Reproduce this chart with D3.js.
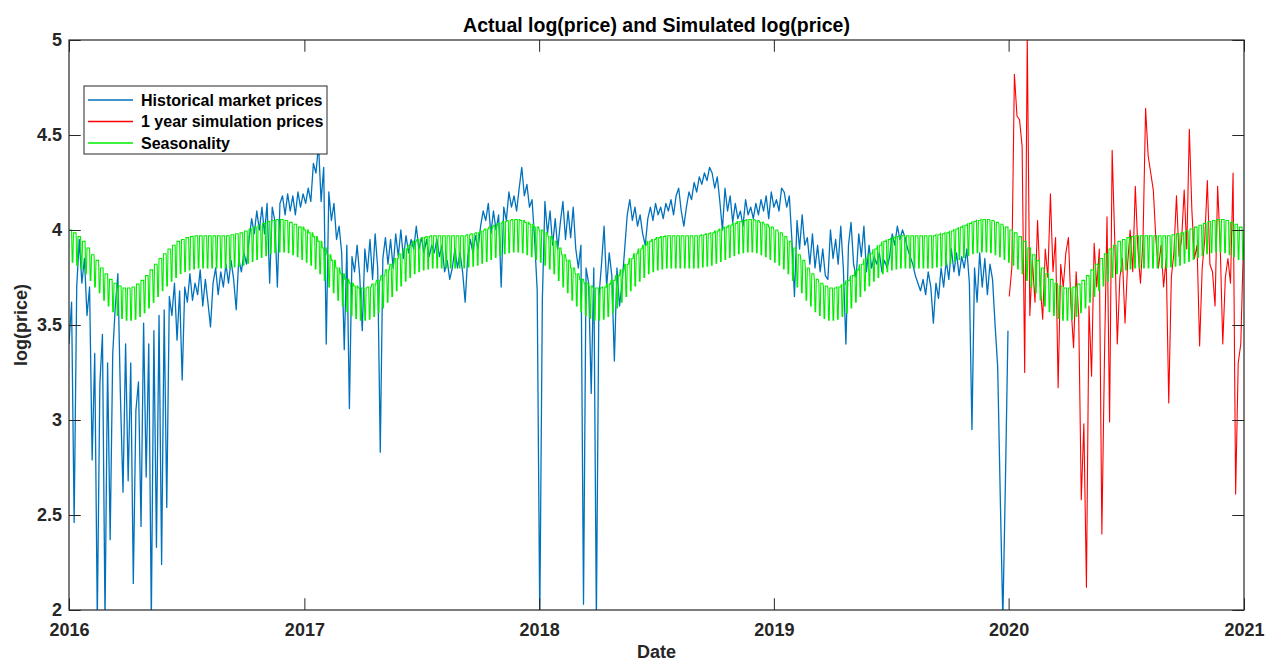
<!DOCTYPE html>
<html>
<head>
<meta charset="utf-8">
<script src="https://cdn.jsdelivr.net/npm/d3@7"></script>
<style>
  body { margin: 0; background: #fff; }
  text { font-family: "Liberation Sans", Arial, sans-serif; }
</style>
</head>
<body>
<div id="chart"></div>
<script>
// historical log(price), one value every 4 days from 2016-01-01
const hist2016 = [
  3.40, 3.62, 2.46, 3.70, 3.95, 3.72, 3.85, 3.55, 3.70, 2.79,
  3.35, 1.95, 3.19, 3.45, 1.95, 3.30, 2.37, 3.35, 3.60, 3.77,
  3.12, 2.62, 3.40, 2.68, 3.30, 2.14, 3.05, 3.20, 2.44, 3.51,
  2.70, 3.40, 1.95, 3.47, 2.33, 3.55, 2.24, 3.58, 2.54, 3.65,
  3.55, 3.72, 3.42, 3.68, 3.21, 3.70, 3.62, 3.77, 3.63, 3.72,
  3.66, 3.79, 3.60, 3.74, 3.62, 3.49, 3.72, 3.80, 3.66, 3.78,
  3.70, 3.82, 3.72, 3.84, 3.74, 3.58, 3.85, 3.78, 3.88, 3.82,
  3.95, 4.06, 3.98, 4.10, 4.00, 4.12, 3.98, 4.14, 3.72, 4.12,
  4.05, 3.70, 4.14, 4.18, 4.08, 4.19, 4.10, 4.18, 4.08, 4.20,
  4.12, 4.19
];
const hist2017 = [
  4.14, 4.22, 4.15, 4.35, 4.30, 4.45, 4.15, 4.33, 3.40, 4.20,
  4.05, 4.14, 3.95, 4.02, 3.88, 3.37, 3.92, 3.06, 3.86, 3.78,
  3.92, 3.76, 3.47, 3.90, 3.78, 3.95, 3.74, 3.98, 3.80, 2.83,
  3.85, 3.96, 3.82, 3.95, 3.80, 3.98, 3.86, 4.00, 3.85, 3.97,
  3.88, 3.95, 3.90, 4.02, 3.90, 3.96, 3.88, 3.95, 3.86, 3.92,
  3.88, 3.95, 3.86, 3.92, 3.78, 3.84, 3.74, 3.80, 3.90, 3.80,
  3.88, 3.78, 3.62, 3.86, 3.95, 3.88, 3.97, 3.90, 4.02, 4.10,
  4.05, 4.14, 3.98, 4.10, 4.00, 4.08, 3.70, 4.12, 4.05, 4.20,
  4.12, 4.18, 4.10, 4.22, 4.33, 4.18, 4.24, 4.12, 4.16, 3.95,
  3.68, 1.95
];
const hist2018 = [
  3.63, 4.15, 3.98, 4.10, 3.92, 4.06, 3.90, 4.04, 4.15, 3.95,
  4.10, 3.96, 4.12, 3.90, 3.80, 3.92, 2.03, 3.80, 3.72, 3.14,
  3.80, 1.95, 3.65, 3.82, 4.02, 3.70, 3.88, 3.76, 3.31, 3.80,
  3.60, 3.72, 3.90, 4.08, 4.16, 4.05, 4.12, 4.02, 4.08, 3.98,
  3.92, 4.06, 4.12, 4.05, 4.14, 4.08, 4.12, 4.06, 4.14, 4.10,
  4.16, 4.08, 4.18, 4.22, 4.10, 4.02, 4.12, 4.20, 4.16, 4.25,
  4.20, 4.28, 4.24, 4.30, 4.26, 4.33, 4.30, 4.22, 4.28, 4.15,
  4.00, 4.22, 4.10, 4.18, 4.04, 4.14, 4.06, 4.10, 4.02, 4.16,
  4.08, 4.12, 4.06, 4.14, 4.08, 4.16, 4.10, 4.18, 4.06, 4.20,
  4.12, 4.16
];
const hist2019 = [
  4.10, 4.22, 4.20, 4.12, 4.18, 3.95, 3.65, 4.05, 3.90, 4.08,
  3.92, 3.96, 3.82, 3.98, 3.80, 3.92, 3.78, 3.90, 3.76, 3.74,
  4.00, 3.85, 3.95, 3.82, 4.02, 3.80, 3.40, 3.92, 4.04, 3.82,
  3.75, 3.98, 3.86, 4.02, 3.78, 3.92, 3.80, 3.86, 3.82, 3.88,
  3.78, 3.84, 3.80, 3.86, 3.98, 3.92, 4.02, 3.95, 4.00, 3.96,
  3.90, 3.86, 3.82, 3.76, 3.72, 3.68, 3.74, 3.66, 3.78, 3.70,
  3.51, 3.72, 3.64, 3.80, 3.70, 3.84, 3.74, 3.90, 3.78, 3.88,
  3.76, 3.86, 3.80, 3.90, 3.72, 2.95, 3.80, 3.62, 3.88, 3.70,
  3.85, 3.66, 3.82, 3.74, 3.50, 3.28, 2.60, 1.95, 2.67, 3.47
];

// simulated log(price), one value every 4 days from 2020-01-02
const sim2020 = [
  3.65, 3.80, 4.82, 4.60, 4.58, 4.44, 3.25, 5.02, 3.55, 3.84,
  3.62, 4.05, 3.72, 3.53, 3.90, 3.75, 4.19, 3.78, 3.96, 3.17,
  3.82, 3.70, 3.88, 3.96, 3.60, 3.38, 3.78, 3.55, 2.58, 2.98,
  2.12, 3.60, 3.23, 3.93, 3.70, 3.90, 2.40, 3.32, 4.07, 2.99,
  4.42, 3.95, 3.40, 3.75, 3.85, 3.51, 3.82, 4.00, 3.78, 4.23,
  3.90, 3.72, 3.95, 4.64, 4.39, 4.30, 4.21, 3.95, 3.80, 3.92,
  3.70, 3.85, 3.09, 3.75, 3.88, 4.18, 3.86, 3.95, 4.21, 3.90,
  4.53, 4.10, 3.85, 3.92, 3.39, 3.80, 3.95, 4.26, 3.82, 3.78,
  3.60, 4.23, 3.92, 3.40, 3.75, 3.85, 3.72, 4.30, 2.61, 3.30,
  3.40, 3.91
];

// seasonality: upper level for each week of the year, plus weekday offsets
const seasonWeekly = [
  4.00, 3.985, 3.965, 3.94, 3.905, 3.87, 3.84, 3.80, 3.77, 3.74,
  3.72, 3.705, 3.695, 3.695, 3.70, 3.715, 3.735, 3.76, 3.79, 3.82,
  3.85, 3.875, 3.90, 3.92, 3.94, 3.95, 3.96, 3.965, 3.97, 3.97,
  3.97, 3.97, 3.97, 3.97, 3.97, 3.97, 3.975, 3.98, 3.985, 3.995,
  4.005, 4.015, 4.025, 4.035, 4.045, 4.05, 4.055, 4.055, 4.05, 4.04,
  4.03, 4.015
];
const weekdayOffset = [0, 0, 0, 0, 0, -0.17, -0.17];

const yearTicks = [2016, 2017, 2018, 2019, 2020, 2021];
const yTicks = [2, 2.5, 3, 3.5, 4, 4.5, 5];

const width = 1265;
const height = 663;
const margin = {top: 40, right: 21, bottom: 53, left: 69};
const tickLen = 11.75;
const ink = "#262626";

const svg = d3.select("#chart")
    .append("svg")
    .attr("width", width)
    .attr("height", height);

const x = d3.scaleUtc()
    .domain([new Date(Date.UTC(2016, 0, 1)), new Date(Date.UTC(2021, 0, 1))])
    .range([margin.left, width - margin.right]);
const y = d3.scaleLinear()
    .domain([2, 5])
    .range([height - margin.bottom, margin.top]);

const start = new Date(Date.UTC(2016, 0, 1));
const histData = [...hist2016, ...hist2017, ...hist2018, ...hist2019]
    .map((v, i) => ({date: d3.utcDay.offset(start, 4 * i), value: v}));
const simStart = new Date(Date.UTC(2020, 0, 2));
const simData = sim2020.map((v, i) => ({date: d3.utcDay.offset(simStart, 4 * i), value: v}));

const nDays = d3.utcDay.count(x.domain()[0], x.domain()[1]);
const seasonData = d3.range(nDays + 1).map(i => {
    const date = d3.utcDay.offset(start, i);
    const doy = d3.utcDay.count(d3.utcYear(date), date);
    const w = Math.min(51, Math.floor(doy / 7));
    return {date: date, value: seasonWeekly[w] + weekdayOffset[i % 7]};
});

svg.append("clipPath").attr("id", "plot-clip")
    .append("rect")
    .attr("x", margin.left)
    .attr("y", margin.top)
    .attr("width", width - margin.left - margin.right)
    .attr("height", height - margin.top - margin.bottom);

const line = d3.line()
    .x(d => x(d.date))
    .y(d => y(d.value));

const plot = svg.append("g").attr("clip-path", "url(#plot-clip)");

plot.append("path")
    .datum(histData)
    .attr("fill", "none")
    .attr("stroke", "#0072bd")
    .attr("stroke-width", 1.3)
    .attr("stroke-linejoin", "round")
    .attr("d", line);

plot.append("path")
    .datum(simData)
    .attr("fill", "none")
    .attr("stroke", "#ff0000")
    .attr("stroke-width", 1.1)
    .attr("stroke-linejoin", "round")
    .attr("d", line);

plot.append("path")
    .datum(seasonData)
    .attr("fill", "none")
    .attr("stroke", "#00ee00")
    .attr("stroke-width", 1.1)
    .attr("d", line);

// axes, MATLAB style: ticks inside, box on
const xTickDates = yearTicks.map(yr => new Date(Date.UTC(yr, 0, 1)));

svg.append("g")
    .attr("transform", `translate(0,${height - margin.bottom})`)
    .call(d3.axisBottom(x).tickValues(xTickDates)
        .tickFormat(d3.utcFormat("%Y"))
        .tickSizeInner(-tickLen).tickSizeOuter(0).tickPadding(13));

svg.append("g")
    .attr("transform", `translate(0,${margin.top})`)
    .call(d3.axisTop(x).tickValues(xTickDates)
        .tickFormat("").tickSizeInner(-tickLen).tickSizeOuter(0));

svg.append("g")
    .attr("transform", `translate(${margin.left},0)`)
    .call(d3.axisLeft(y).tickValues(yTicks)
        .tickFormat(d => d)
        .tickSizeInner(-tickLen).tickSizeOuter(0).tickPadding(7));

svg.append("g")
    .attr("transform", `translate(${width - margin.right},0)`)
    .call(d3.axisRight(y).tickValues(yTicks)
        .tickFormat("").tickSizeInner(-tickLen).tickSizeOuter(0));

svg.selectAll(".domain").remove();
svg.selectAll(".tick line").attr("stroke", ink).attr("stroke-width", 1);
svg.selectAll(".tick text")
    .attr("fill", ink)
    .style("font-size", "18px")
    .style("font-weight", 700);

svg.append("rect")
    .attr("x", margin.left)
    .attr("y", margin.top)
    .attr("width", width - margin.left - margin.right)
    .attr("height", height - margin.top - margin.bottom)
    .attr("fill", "none")
    .attr("stroke", ink)
    .attr("stroke-width", 1.2);

// title and labels
svg.append("text")
    .attr("x", (margin.left + width - margin.right) / 2)
    .attr("y", 32)
    .attr("text-anchor", "middle")
    .attr("fill", "#000")
    .style("font-size", "19.5px")
    .style("font-weight", 700)
    .text("Actual log(price) and Simulated log(price)");

svg.append("text")
    .attr("x", (margin.left + width - margin.right) / 2)
    .attr("y", 658)
    .attr("text-anchor", "middle")
    .attr("fill", ink)
    .style("font-size", "18px")
    .style("font-weight", 700)
    .text("Date");

svg.append("text")
    .attr("transform", `translate(27,${(margin.top + height - margin.bottom) / 2}) rotate(-90)`)
    .attr("text-anchor", "middle")
    .attr("fill", ink)
    .style("font-size", "18px")
    .style("font-weight", 700)
    .text("log(price)");

// legend
const legendItems = [
    {label: "Historical market prices", color: "#0072bd"},
    {label: "1 year simulation prices", color: "#ff0000"},
    {label: "Seasonality", color: "#00ee00"}
];

const legend = svg.append("g").attr("transform", "translate(84,86)");
legend.append("rect")
    .attr("width", 243)
    .attr("height", 68)
    .attr("fill", "#fff")
    .attr("stroke", ink)
    .attr("stroke-width", 1);

const rows = legend.selectAll("g.row")
    .data(legendItems)
    .join("g")
    .attr("class", "row")
    .attr("transform", (d, i) => `translate(0,${14 + i * 21.5})`);

rows.append("line")
    .attr("x1", 4).attr("x2", 49)
    .attr("stroke", d => d.color)
    .attr("stroke-width", 1.3);

rows.append("text")
    .attr("x", 57)
    .attr("dy", "0.36em")
    .attr("fill", "#000")
    .style("font-size", "16px")
    .style("font-weight", 700)
    .text(d => d.label);
</script>
</body>
</html>
